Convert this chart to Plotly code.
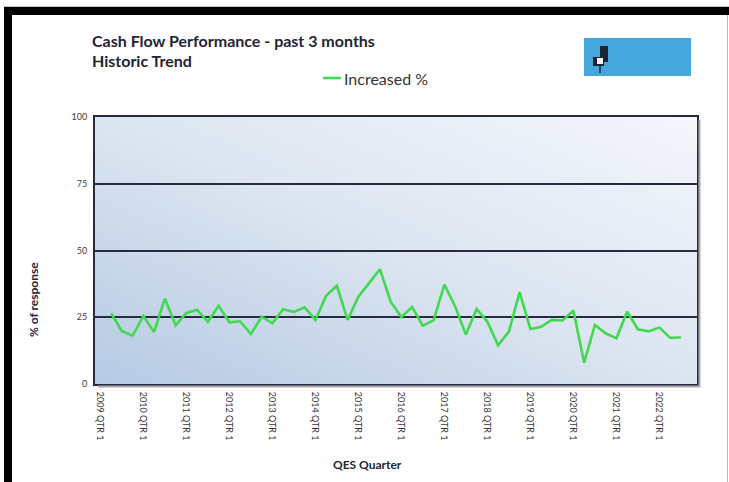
import base64
import plotly.graph_objects as go

# ---------------- data ----------------
years = list(range(2009, 2023))
quarters = [f"{y} QTR {q}" for y in years for q in (1, 2, 3, 4)]
tick_labels = [f"{y} QTR 1" for y in years]
series_name = "Increased %"
increased_pct = [
    None,
    26.5, 19.8, 18.1, 25.5, 19.5, 32.0, 22.0, 26.6, 27.8, 23.3,
    29.3, 23.1, 23.5, 18.7, 25.2, 22.7, 28.0, 27.0, 28.7, 24.0,
    33.0, 36.8, 24.0, 32.7, 37.8, 43.0, 30.8, 25.1, 28.8, 21.8,
    23.9, 37.2, 29.1, 18.5, 28.1, 23.3, 14.5, 19.6, 34.4, 20.6,
    21.4, 24.0, 23.8, 27.5, 8.0, 22.1, 19.0, 17.1, 27.1, 20.5,
    19.7, 21.2, 17.3, 17.4,
    None,
]
y_ticks = [0, 25, 50, 75, 100]

# ---------------- layout geometry (pixels) ----------------
W, H = 729, 482
PL, PR, PT, PB = 95, 697, 117, 384
PW, PH = PR - PL, PB - PT
FONT = "Lato, 'Open Sans', sans-serif"
NAVY = "#262b40"
GREEN = "#41d94f"


def px(x):
    return (x - PL) / PW


def py(y):
    return (PB - y) / PH


svg = (
    "<svg xmlns='http://www.w3.org/2000/svg' width='602' height='267' "
    "viewBox='0 0 602 267' preserveAspectRatio='none'>"
    "<defs><linearGradient id='g' x1='0' y1='1' x2='1' y2='0'>"
    "<stop offset='0' stop-color='#b6cae3'/>"
    "<stop offset='0.5' stop-color='#dce5f1'/>"
    "<stop offset='1' stop-color='#f4f7fb'/>"
    "</linearGradient></defs>"
    "<rect width='602' height='267' fill='url(#g)'/></svg>"
)
svg_uri = "data:image/svg+xml;base64," + base64.b64encode(svg.encode()).decode()

fig = go.Figure()
fig.add_trace(
    go.Scatter(
        x=quarters,
        y=increased_pct,
        mode="lines",
        name=series_name,
        line=dict(color=GREEN, width=2.6),
        showlegend=False,
    )
)

shapes = []
# black frame
shapes.append(dict(type="rect", xref="paper", yref="paper",
                   x0=px(4), x1=px(730), y0=py(15), y1=py(7),
                   fillcolor="black", line=dict(width=0), layer="above"))
shapes.append(dict(type="rect", xref="paper", yref="paper",
                   x0=px(4), x1=px(12), y0=py(483), y1=py(7),
                   fillcolor="black", line=dict(width=0), layer="above"))
shapes.append(dict(type="line", xref="paper", yref="paper",
                   x0=px(4), x1=px(730), y0=py(6.5), y1=py(6.5),
                   line=dict(color="#c8c8c8", width=1)))
shapes.append(dict(type="line", xref="paper", yref="paper",
                   x0=px(727.5), x1=px(727.5), y0=py(483), y1=py(15),
                   line=dict(color="#b8b8b8", width=1)))
# plot shadow
shapes.append(dict(type="line", xref="paper", yref="paper",
                   x0=px(PR + 2.5), x1=px(PR + 2.5), y0=py(PB + 3), y1=py(PT + 3),
                   line=dict(color="#a9a9b0", width=2)))
shapes.append(dict(type="line", xref="paper", yref="paper",
                   x0=px(PL + 3), x1=px(PR + 3), y0=py(PB + 2.5), y1=py(PB + 2.5),
                   line=dict(color="#a9a9b0", width=2)))
# legend sample line
shapes.append(dict(type="line", xref="paper", yref="paper",
                   x0=px(323), x1=px(341), y0=py(78), y1=py(78),
                   line=dict(color=GREEN, width=2.6)))
# logo
shapes.append(dict(type="rect", xref="paper", yref="paper",
                   x0=px(584), x1=px(691), y0=py(76), y1=py(38),
                   fillcolor="#45a7de", line=dict(width=0)))
shapes.append(dict(type="rect", xref="paper", yref="paper",
                   x0=px(600), x1=px(608), y0=py(62), y1=py(46),
                   fillcolor="#1d2630", line=dict(width=0)))
shapes.append(dict(type="rect", xref="paper", yref="paper",
                   x0=px(593), x1=px(604), y0=py(66), y1=py(57),
                   fillcolor="#1d2630", line=dict(width=0)))
shapes.append(dict(type="rect", xref="paper", yref="paper",
                   x0=px(597), x1=px(603), y0=py(64), y1=py(58),
                   fillcolor="#f4f4f4", line=dict(width=0)))
shapes.append(dict(type="line", xref="paper", yref="paper",
                   x0=px(600), x1=px(600), y0=py(73), y1=py(66),
                   line=dict(color="#1d2630", width=1.5)))

annotations = [
    dict(text="<b>Cash Flow Performance - past 3 months</b>", xref="paper", yref="paper",
         x=px(90), y=py(41), xanchor="left", yanchor="middle", showarrow=False,
         font=dict(family=FONT, size=16, color="#1f2436")),
    dict(text="<b>Historic Trend</b>", xref="paper", yref="paper",
         x=px(90), y=py(61), xanchor="left", yanchor="middle", showarrow=False,
         font=dict(family=FONT, size=16, color="#1f2436")),
    dict(text=series_name, xref="paper", yref="paper",
         x=px(342), y=py(78), xanchor="left", yanchor="middle", showarrow=False,
         font=dict(family=FONT, size=16, color="#333333")),
    dict(text="<b>% of response</b>", xref="paper", yref="paper",
         x=px(33), y=py(300), xanchor="center", yanchor="middle", showarrow=False,
         textangle=-90, font=dict(family=FONT, size=12, color="#1f2436")),
    dict(text="<b>QES Quarter</b>", xref="paper", yref="paper",
         x=px(367), y=py(464), xanchor="center", yanchor="middle", showarrow=False,
         font=dict(family=FONT, size=12, color="#1f2436")),
]

fig.update_layout(
    width=W,
    height=H,
    margin=dict(l=PL, r=W - PR, t=PT, b=H - PB),
    paper_bgcolor="white",
    plot_bgcolor="rgba(0,0,0,0)",
    font=dict(family=FONT, size=9, color="#404040"),
    showlegend=False,
    shapes=shapes,
    annotations=annotations,
    images=[dict(source=svg_uri, xref="paper", yref="paper", x=0, y=1,
                 sizex=1, sizey=1, sizing="stretch", xanchor="left",
                 yanchor="top", layer="below")],
)
fig.update_xaxes(
    type="category",
    categoryorder="array",
    categoryarray=quarters,
    range=[-0.5, len(quarters) - 0.5],
    tickmode="array",
    tickvals=tick_labels,
    ticktext=tick_labels,
    tickangle=90,
    tickfont=dict(family=FONT, size=9, color="#333333"),
    showgrid=False,
    showline=True,
    linecolor=NAVY,
    linewidth=2,
    mirror=True,
    ticks="",
    ticklabelstandoff=4,
)
fig.update_yaxes(
    range=[0, 100],
    tickmode="array",
    tickvals=y_ticks,
    tickfont=dict(family=FONT, size=9, color="#404040"),
    showgrid=True,
    gridcolor=NAVY,
    gridwidth=2,
    zeroline=False,
    showline=True,
    linecolor=NAVY,
    linewidth=2,
    mirror=True,
    ticks="",
    ticklabelstandoff=4,
)

fig.write_html(
    "out.html",
    config={"displayModeBar": False},
    post_script="document.body.style.margin='0';document.body.style.overflow='hidden';",
)
